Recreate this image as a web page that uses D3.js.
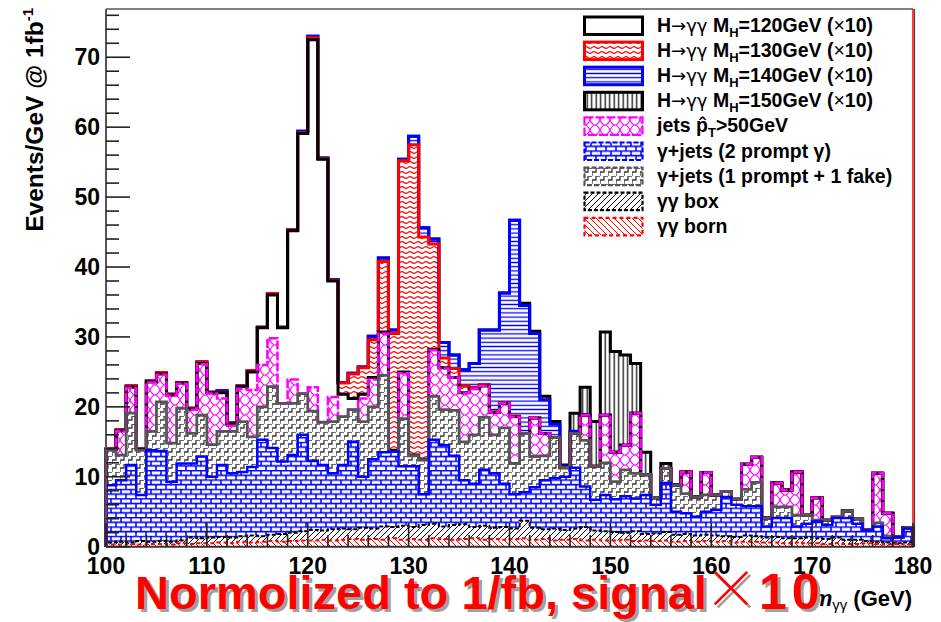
<!DOCTYPE html>
<html><head><meta charset="utf-8">
<script src="https://cdn.jsdelivr.net/npm/d3@7"></script>
<style>body{margin:0;background:#fff}svg{display:block;font-family:"Liberation Sans",Arial,sans-serif}</style>
</head><body><svg id="c" width="941" height="622"></svg>
<script>
// ---- data: one value per 1 GeV bin, m_gg = 100 ... 179 (Events/GeV @ 1/fb, signal x10)
const binLow = d3.range(100, 180, 1);
const xTicks = [100,110,120,130,140,150,160,170,180];
const yTicks = [0,10,20,30,40,50,60,70];

const born = [0.3,0.3,0.4,0.3,0.4,0.4,0.3,0.5,0.4,0.5, 0.5,0.6,0.5,0.7,0.6,0.7,0.8,0.7,0.8,0.9,
  0.9,1.0,0.9,1.0,1.1,1.0,1.1,1.0,1.2,1.0, 1.1,1.0,1.2,1.1,1.0,1.1,1.2,1.0,1.1,1.0,
  1.1,1.2,1.0,1.1,0.9,1.0,1.1,0.9,1.0,0.9, 0.9,1.0,0.8,0.9,0.8,0.9,0.7,0.8,0.7,0.8,
  0.7,0.8,0.6,0.7,0.7,0.6,0.6,0.5,0.6,0.5, 0.5,0.4,0.5,0.4,0.4,0.5,0.4,0.3,0.4,0.3];
const box = [0.3,0.4,0.2,0.5,0.3,0.4,0.4,0.4,0.9,0.7, 0.8,0.8,0.8,0.8,1.0,0.8,0.9,1.1,1.2,1.3,
  1.5,1.3,1.6,1.6,1.4,1.7,1.5,1.9,1.6,2.0, 1.7,2.1,2.1,1.8,2.1,2.1,1.6,2.0,1.6,1.8,
  1.5,2.5,1.7,1.4,1.7,1.4,1.5,1.9,1.3,1.3, 1.2,1.0,1.4,0.9,1.1,1.2,1.0,1.0,0.9,0.9,
  0.9,0.7,0.8,0.9,0.8,0.7,0.8,0.7,0.6,0.8, 0.7,0.7,0.8,0.6,0.6,0.3,0.3,0.3,0.1,0.3];
const gjets2prompt = [8.2,8.8,11.1,6.6,13.1,12.9,8.6,11.0,10.6,11.7, 8.7,10.3,9.2,9.2,9.8,13.8,12.4,10.4,11.1,13.8,
  9.9,9.4,8.0,9.1,12.5,7.3,9.9,10.6,10.8,8.5, 8.7,4.4,12.0,11.6,9.9,6.3,6.2,8.0,7.8,6.2,
  4.9,4.1,5.8,7.0,7.2,7.6,8.7,5.8,4.4,5.2, 4.7,5.2,4.7,5.6,4.1,7.0,3.3,3.0,2.7,3.3,
  3.7,5.6,4.6,4.2,4.3,1.6,2.7,2.9,1.7,2.0, 2.4,2.0,2.8,3.1,2.3,1.5,2.2,0.6,0.9,2.0];
const gjets1fake = [5.0,3.6,7.4,6.4,2.7,7.0,5.5,7.9,4.3,5.9, 4.6,4.8,6.0,7.2,4.3,4.7,8.8,8.3,7.4,5.9,
  7.1,6.1,7.4,6.9,4.6,7.9,7.5,11.0,0.0,6.8, 1.5,4.9,6.2,5.1,6.5,5.5,7.0,7.5,5.5,8.0,
  4.4,8.4,4.4,3.5,5.8,1.3,4.9,6.6,4.8,4.6, 2.5,3.8,3.6,2.9,1.0,2.1,3.8,2.8,2.8,2.4,
  2.1,0.8,0.8,2.4,3.4,1.2,1.6,1.6,1.6,1.2, 0.2,0.7,0.1,1.0,0.7,0.1,0.5,0.3,0.0,0.1];
const jets = [0,3.4,3.6,0,7.0,3.9,6.8,3.5,3.4,7.3, 7.3,4.7,0.8,4.7,6.7,6.0,6.9,0,3.4,0,
  3.4,0,3.5,0,0,3.3,3.9,6.0,0,6.5, 0,0,6.6,5.9,4.7,7.0,6.6,4.5,3.2,3.5,
  6.7,0,5.5,3.2,0,0,0,3.6,0,6.8, 4.2,3.5,8.6,0,0,0,0,3.1,0,3.2,
  0,0,0,3.6,3.6,0,3.4,2.4,6.2,0, 3.2,0,0,0,0,0,7.1,3.3,0,0];
const h120 = [0.1,0.1,0.1,0.1,0.1,0.1,0.1,0.1,0.1,0.1, 0.1,0.8,0.3,0.3,2.6,5.3,6.2,10.8,21.3,37.2,
  49.7,37.6,16.6,3.2,1.6,0.6,0.3,0.2,0.2,0.2, 0.1,0.1,0.1,0.1,0,0,0,0,0,0,
  0,0,0,0,0,0,0,0,0,0, 0,0,0,0,0,0,0,0,0,0, 0,0,0,0,0,0,0,0,0,0, 0,0,0,0,0,0,0,0,0,0];
const h130 = [0.1,0.1,0.2,0.1,0.1,0.2,0.1,0.1,0.1,0.2, 0.1,0.1,0.1,0.1,0.2,0.1,0.2,0.1,0.1,0.1,
  0.3,0.1,0.1,1.6,3.5,3.8,5.4,10.1,16.7,30.2, 44.4,31.8,15.1,1.4,1.3,1.0,0.2,0.2,0.1,0.1,
  0.1,0,0,0,0,0,0,0,0,0, 0,0,0,0,0,0,0,0,0,0, 0,0,0,0,0,0,0,0,0,0, 0,0,0,0,0,0,0,0,0,0];
const h140 = [0,0,0,0,0,0,0,0,0,0, 0,0.2,0,0,0,0,0,0,0,0.2,
  0.2,0.1,0.1,0.1,0.1,0.1,0.5,0.5,0.5,0.2, 1.2,1.3,0.7,2.2,1.9,2.3,3.4,7.8,11.7,15.7,
  28.0,18.3,12.1,4.8,1.9,0.2,0.3,0.1,0,0, 0,0,0,0,0,0,0,0,0,0, 0,0,0,0,0,0,0,0,0,0, 0,0,0,0,0,0,0,0,0,0];
const h150 = [0,0,0,0,0,0,0,0,0,0, 0,0,0,0,0,0,0,0,0,0, 0,0,0,0,0,0,0,0,0,0, 0,0,0,0,0,0,0,0,0,0,
  0,0.3,0.3,0.5,0.4,0.2,2.6,3.9,6.4,11.9, 14.4,12.9,7.1,3.2,0,0.7,0.1,0,0,0,
  0,0,0,0,0,0,0,0,0,0, 0,0,0,0,0,0,0,0,0,0];

const seriesNames = ["born","box","gp2","gp1","jets","h120","h130","h140","h150"];
const seriesData = {born, box, gp2: gjets2prompt, gp1: gjets1fake, jets, h120, h130, h140, h150};
const legendLabels = [
  {k:"h120", mass:"120"},
  {k:"h130", mass:"130"},
  {k:"h140", mass:"140"},
  {k:"h150", mass:"150"},
  {k:"jets", t:"jets"},
  {k:"gp2", t:"γ+jets (2 prompt γ)"},
  {k:"gp1", t:"γ+jets (1 prompt + 1 fake)"},
  {k:"box", t:"γγ box"},
  {k:"born", t:"γγ born"}
];

// ---- styles
const style = {
  born:{stroke:"#ff0000", w:2, dash:"4,3", fill:"url(#pBorn)"},
  box: {stroke:"#000", w:2, dash:"4,2", fill:"url(#pBox)"},
  gp2: {stroke:"#0000ff", w:2.5, dash:null, fill:"url(#pGp2)", ldash:"5,2"},
  gp1: {stroke:"#555", w:2.8, dash:null, fill:"url(#pGp1)", ldash:"5,2"},
  jets:{stroke:"#ff00ff", w:2.5, dash:"9,2", fill:"url(#pJets)"},
  h120:{stroke:"#000", w:3, dash:null, fill:"#fff"},
  h130:{stroke:"#ff0000", w:3, dash:null, fill:"url(#pH130)"},
  h140:{stroke:"#0000ff", w:3, dash:null, fill:"url(#pH140)"},
  h150:{stroke:"#000", w:3, dash:null, fill:"url(#pH150)"}
};

const svg = d3.select("#c");
const defs = svg.append("defs");
function pat(id, w, h, d, stroke, sw){
  const p = defs.append("pattern").attr("id",id).attr("patternUnits","userSpaceOnUse").attr("width",w).attr("height",h);
  p.append("rect").attr("width",w).attr("height",h).attr("fill","#fff");
  p.append("path").attr("d",d).attr("fill","none").attr("stroke",stroke).attr("stroke-width",sw);
}
pat("pH130", 8, 5, "M0,2.5 Q2,0.6 4,2.5 T8,2.5", "#ff0000", 1.1);
pat("pH140", 4, 4.2, "M0,2.1 H4", "#0000ff", 1.3);
pat("pH150", 4.5, 4, "M2.2,0 V4", "#222", 1.4);
pat("pJets", 10, 10, "M0,0 Q2.5,5 5,5 Q7.5,5 10,10 M10,0 Q7.5,5 5,5 Q2.5,5 0,10", "#ff00ff", 1.1);
pat("pGp2", 10, 9.4, "M0,0.6 H10 M0,5.3 H10 M1,0.6 V5.3 M6,5.3 V10", "#0000ff", 1.5);
pat("pGp1", 8, 8, "M0,8 V4 H4 V0 H8", "#3a3a3a", 1.3);
pat("pBox", 6, 6, "M0,6 L6,0 M-1,1 L1,-1 M5,7 L7,5", "#000", 1);
pat("pBorn", 6, 6, "M0,0 L6,6 M-1,5 L1,7 M5,-1 L7,1", "#ff0000", 1);

const x = d3.scaleLinear().domain([100,180]).range([106,913]);
const y = d3.scaleLinear().domain([0,76.9]).range([546.7,9]);

const rows = binLow.map((m,i) => {
  const r = {m};
  seriesNames.forEach(k => r[k] = seriesData[k][i]);
  return r;
});
const stacked = d3.stack().keys(seriesNames)(rows);

const area = d3.area().curve(d3.curveStepAfter)
  .x(d => x(d.x)).y0(d => y(d.y0)).y1(d => y(d.y1));
const line = d3.line().curve(d3.curveStepAfter).x(d => x(d.x)).y(d => y(d.v));

const gPlot = svg.append("g");
stacked.forEach(layer => {
  const pts = layer.map((d,i) => ({x: rows[i].m, y0: d[0], y1: d[1]}));
  const last = pts[pts.length-1];
  pts.push({x:180, y0:last.y0, y1:last.y1});
  layer.pts = pts;
  gPlot.append("path").attr("d", area(pts)).attr("fill", style[layer.key].fill).attr("stroke","none");
});
// outlines drawn from top of stack downward (like THStack)
stacked.slice().reverse().forEach(layer => {
  const s = style[layer.key];
  const pts = [{x:100, v:0}].concat(layer.pts.map(p => ({x:p.x, v:p.y1}))).concat([{x:180, v:0}]);
  gPlot.append("path").attr("d", line(pts)).attr("fill","none")
    .attr("stroke", s.stroke).attr("stroke-width", s.w)
    .attr("stroke-dasharray", s.dash).attr("stroke-linejoin","miter");
});

// ---- axes / frame
const ax = svg.append("g");
ax.append("line").attr("x1",106).attr("x2",913).attr("y1",9).attr("y2",9).attr("stroke","#555").attr("stroke-width",1.5);
ax.append("line").attr("x1",913).attr("x2",913).attr("y1",9).attr("y2",547).attr("stroke","#ff0000").attr("stroke-width",1.5);
ax.append("line").attr("x1",914.6).attr("x2",914.6).attr("y1",9).attr("y2",547).attr("stroke","#333").attr("stroke-width",1);
ax.append("line").attr("x1",106).attr("x2",106).attr("y1",9).attr("y2",547).attr("stroke","#555").attr("stroke-width",2);
ax.append("line").attr("x1",106).attr("x2",914).attr("y1",546.7).attr("y2",546.7).attr("stroke","#333").attr("stroke-width",2);

const yMinor = d3.range(0, 77, 2);
ax.selectAll(".ym").data(yMinor).join("line")
  .attr("x1",106).attr("x2", d => d % 10 === 0 ? 130 : 119)
  .attr("y1", d => y(d)).attr("y2", d => y(d)).attr("stroke","#222").attr("stroke-width",1.6);
ax.selectAll(".yl").data(yTicks).join("text")
  .attr("x",100).attr("y", d => y(d) + 8).attr("text-anchor","end")
  .attr("font-size",23).attr("font-weight","bold").attr("fill","#000").text(d => d);

const xMinor = d3.range(100, 181, 2);
ax.selectAll(".xm").data(xMinor).join("line")
  .attr("x1", d => x(d)).attr("x2", d => x(d))
  .attr("y1", 546.7).attr("y2", d => d % 10 === 0 ? 523 : 535).attr("stroke","#222").attr("stroke-width",1.6);
ax.selectAll(".xl").data(xTicks).join("text")
  .attr("x", d => x(d)).attr("y", 574).attr("text-anchor","middle")
  .attr("font-size",23).attr("font-weight","bold").attr("fill","#000").text(d => d);

// y title
const yt = svg.append("text").attr("transform","translate(43,8) rotate(-90)")
  .attr("text-anchor","end").attr("font-size",24.5).attr("font-weight","bold").attr("fill","#000");
yt.append("tspan").text("Events/GeV @ 1fb");
yt.append("tspan").attr("font-size",15).attr("dy",-10).text("-1");

// x title (partly hidden by overlay)
const xt = svg.append("text").attr("x",912).attr("y",606).attr("text-anchor","end")
  .attr("font-size",22).attr("font-weight","bold").attr("fill","#000");
xt.append("tspan").attr("font-style","italic").text("m");
xt.append("tspan").attr("font-size",15).attr("font-weight","normal").attr("dy",4).text("γγ");
xt.append("tspan").attr("dy",-4).text(" (GeV)");

// ---- legend
const lg = svg.append("g");
legendLabels.forEach((e,i) => {
  const top = 17 + 25.1*i;
  const s = style[e.k];
  const isSig = e.k.startsWith("h");
  lg.append("rect").attr("x",584.5).attr("y",top).attr("width",58).attr("height",17.5)
    .attr("fill", s.fill).attr("stroke", s.stroke).attr("stroke-width", isSig ? 3 : 2.2)
    .attr("stroke-dasharray", isSig ? null : (s.ldash || s.dash));
  const t = lg.append("text").attr("x",657).attr("y",top+15).attr("font-size",19.5).attr("font-weight","bold").attr("fill","#000");
  if (e.mass) {
    t.append("tspan").text("H");
    t.append("tspan").attr("font-family","'DejaVu Sans'").attr("font-weight","normal").attr("font-size",18).text("→γγ");
    t.append("tspan").text(" M");
    t.append("tspan").attr("font-size",13).attr("dy",5).text("H");
    t.append("tspan").attr("dy",-5).text("=" + e.mass + "GeV (");
    t.append("tspan").attr("font-weight","normal").text("×");
    t.append("tspan").text("10)");
  } else if (e.k === "jets") {
    t.append("tspan").text("jets p\u0302");
    t.append("tspan").attr("font-size",13).attr("dy",5).text("T");
    t.append("tspan").attr("dy",-5).text(">50GeV");
  } else {
    t.text(e.t);
  }
});

// ---- overlay annotation
function note(g, dx, dy, fill){
  const t = g.append("text").attr("x",135+dx).attr("y",609+dy).attr("font-size",47).attr("font-weight","bold").attr("fill",fill);
  t.append("tspan").text("Normolized to 1/fb, signal");
  t.append("tspan").attr("font-family","'Noto Sans CJK JP'").attr("font-weight","300").attr("font-size",54).attr("dx",-3).text("×");
  t.append("tspan").attr("dx",1).attr("font-size",50).attr("letter-spacing",5).text("10");
}
const ov = svg.append("g");
note(ov, 3, 3, "#a0a0a0");
note(ov, 0, 0, "#ff0000");
</script></body></html>
